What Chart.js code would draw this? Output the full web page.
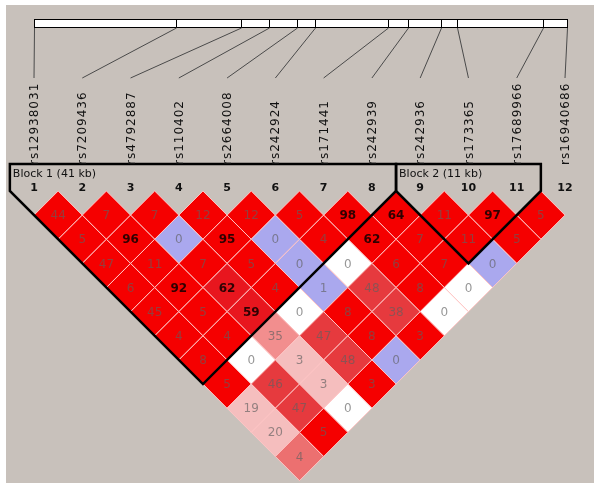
<!DOCTYPE html>
<html>
<head>
<meta charset="utf-8">
<script src="https://cdn.jsdelivr.net/npm/chart.js@4/dist/chart.umd.min.js"></script>
<style>
  html, body { margin: 0; padding: 0; background: #ffffff; }
  #wrap { position: relative; width: 600px; height: 493px; }
  #bg { position: absolute; left: 6px; top: 5px; width: 588px; height: 478px; background: #c8c1bb; }
  canvas { position: absolute; left: 0; top: 0; }
</style>
</head>
<body>
<div id="wrap">
  <div id="bg"></div>
  <canvas id="c" width="600" height="493"></canvas>
</div>
<script>
// ---- data ----
const markers = ['rs12938031','rs7209436','rs4792887','rs110402','rs2664008','rs242924',
                 'rs171441','rs242939','rs242936','rs173365','rs17689966','rs16940686'];
const positionsKb = [0, 15.43, 22.54, 25.58, 28.57, 30.53, 38.46, 40.63, 44.21, 46.0, 55.30, 57.90];
const blockStart = [1, 9];
const blockEnd = [8, 11];
const blockKb = [41, 11];
// values shown in each cell, one row per marker distance (1..11), left to right
const ldValues = [
  [44, 7, 7, 12, 12, 5, 98, 64, 11, 97, 5],
  [5, 96, 0, 95, 0, 4, 62, 7, 11, 5],
  [47, 11, 7, 5, 0, 0, 6, 7, 0],
  [6, 92, 62, 4, 1, 48, 8, 0],
  [45, 5, 59, 0, 8, 38, 0],
  [4, 4, 35, 47, 8, 3],
  [8, 0, 3, 48, 0],
  [5, 46, 3, 3],
  [19, 47, 0],
  [20, 5],
  [4]
];
// LD colour class of each cell (R strong red ... W white, B blue)
const ldClasses = [
  'RRRRRRRRRRR',
  'RRBRBRRRRR',
  'RRRRBWRRB',
  'RRDRBMRW',
  'RRDWRMW',
  'RRPMRR',
  'RWLMB',
  'RMLR',
  'LMW',
  'LR',
  'S'
];

// ---- styles ----
const palette = {
  R: 'rgb(245,0,0)',
  D: 'rgb(232,22,30)',
  M: 'rgb(230,58,62)',
  P: 'rgb(242,142,142)',
  L: 'rgb(245,190,190)',
  S: 'rgb(236,112,112)',
  B: 'rgb(170,168,238)',
  W: 'rgb(255,255,255)'
};

const cells = [];
ldValues.forEach((row, r) => {
  const d = r + 1;
  row.forEach((v, k) => {
    const i = k + 1, j = i + d;
    cells.push({ x: (i + j) / 2, y: d / 2, v: v, cls: ldClasses[r][k] });
  });
});

// layout of scales (pixel targets)
const W = 600, H = 493;
const PX_UNIT = (565 - 34) / 11;
const xMin = 1 - 34 / PX_UNIT, xMax = xMin + W / PX_UNIT;
const yMin = -191 / PX_UNIT, yMax = yMin + H / PX_UNIT;
const PX_KB = (567 - 34) / positionsKb[positionsKb.length - 1];
const kbMin = -34 / PX_KB, kbMax = kbMin + W / PX_KB;

const halfDiag = (chart) => {
  const s = chart.scales.x;
  return s.getPixelForValue(1) - s.getPixelForValue(0.5);
};

const decor = {
  id: 'decor',
  afterDatasetsDraw(chart) {
    const ctx = chart.ctx;
    const xs = chart.scales.x, ys = chart.scales.y, ks = chart.scales.kb;
    ctx.save();
    // cell numbers
    const meta = chart.getDatasetMeta(0);
    ctx.textAlign = 'center';
    ctx.textBaseline = 'middle';
    meta.data.forEach((el, idx) => {
      const c = cells[idx];
      if (c.v >= 50) {
        ctx.font = 'bold 12px "DejaVu Sans"';
        ctx.fillStyle = 'rgba(20,0,0,0.88)';
      } else {
        ctx.font = '12px "DejaVu Sans"';
        ctx.fillStyle = 'rgba(95,95,95,0.65)';
      }
      ctx.fillText(String(c.v), el.x, el.y + 1);
    });

    // block outlines
    const topY = 164;
    const baseY = ys.getPixelForValue(0);
    ctx.strokeStyle = '#000';
    ctx.lineWidth = 2.5;
    ctx.lineJoin = 'miter';
    blockStart.forEach((a, bi) => {
      const b = blockEnd[bi];
      const left = xs.getPixelForValue(a - 0.5);
      const right = xs.getPixelForValue(b + 0.5);
      const ax = xs.getPixelForValue((a + b) / 2);
      const ay = ys.getPixelForValue((b - a) / 2 + 0.5);
      ctx.beginPath();
      ctx.moveTo(left, baseY);
      ctx.lineTo(left, topY);
      ctx.lineTo(right, topY);
      ctx.lineTo(right, baseY);
      ctx.lineTo(ax, ay);
      ctx.closePath();
      ctx.stroke();
      ctx.font = '11px "DejaVu Sans"';
      ctx.fillStyle = '#111';
      ctx.textAlign = 'left';
      ctx.fillText('Block ' + (bi + 1) + ' (' + blockKb[bi] + ' kb)', left + 3, 174);
    });

    // marker numbers
    ctx.font = 'bold 11px "DejaVu Sans"';
    ctx.fillStyle = '#111';
    ctx.textAlign = 'center';
    markers.forEach((m, i) => {
      ctx.fillText(String(i + 1), xs.getPixelForValue(i + 1), 188);
    });

    // ruler bar
    const r0 = ks.getPixelForValue(positionsKb[0]);
    const r1 = ks.getPixelForValue(positionsKb[positionsKb.length - 1]);
    ctx.fillStyle = '#fff';
    ctx.fillRect(r0, 19, r1 - r0, 9);
    ctx.lineWidth = 1;
    ctx.strokeStyle = '#000';
    ctx.strokeRect(r0 + 0.5, 19.5, r1 - r0, 8);
    positionsKb.forEach((p, i) => {
      const px = Math.round(ks.getPixelForValue(p)) + 0.5;
      ctx.beginPath();
      ctx.moveTo(px, 19);
      ctx.lineTo(px, 28);
      ctx.stroke();
      // connector
      ctx.strokeStyle = '#4a4a4a';
      ctx.beginPath();
      ctx.moveTo(px, 28);
      ctx.lineTo(xs.getPixelForValue(i + 1), 78);
      ctx.stroke();
      ctx.strokeStyle = '#000';
    });

    // marker names (rotated)
    ctx.font = '12px "DejaVu Sans"';
    ctx.fillStyle = '#111';
    ctx.textAlign = 'left';
    ctx.textBaseline = 'middle';
    try { ctx.letterSpacing = '1px'; } catch (e) {}
    markers.forEach((m, i) => {
      ctx.save();
      ctx.translate(xs.getPixelForValue(i + 1) + 1, 165);
      ctx.rotate(-Math.PI / 2);
      ctx.fillText(m, 0, 0);
      ctx.restore();
    });
    ctx.restore();
  }
};

new Chart(document.getElementById('c'), {
  type: 'scatter',
  data: {
    datasets: [{
      data: cells,
      pointStyle: 'rectRot',
      pointRadius: (c) => halfDiag(c.chart),
      pointHoverRadius: (c) => halfDiag(c.chart),
      pointBackgroundColor: (c) => palette[cells[c.dataIndex].cls],
      pointBorderColor: 'rgba(255,196,196,1)',
      pointBorderWidth: 1
    }]
  },
  options: {
    responsive: false,
    animation: false,
    events: [],
    layout: { padding: 0 },
    plugins: { legend: { display: false }, tooltip: { enabled: false } },
    scales: {
      x: { type: 'linear', min: xMin, max: xMax, display: false },
      y: { type: 'linear', reverse: true, min: yMin, max: yMax, display: false },
      kb: { type: 'linear', axis: 'x', min: kbMin, max: kbMax, display: false }
    }
  },
  plugins: [decor]
});
</script>
</body>
</html>
